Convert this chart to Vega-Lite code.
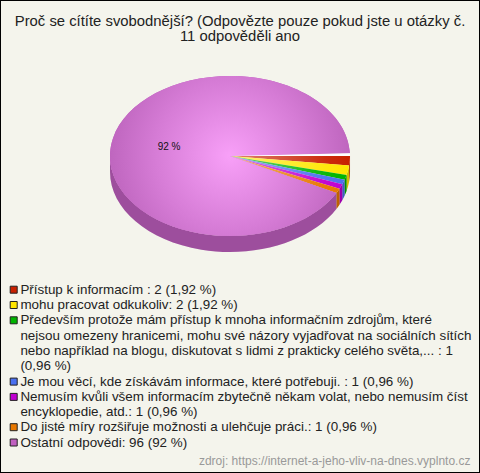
{
"$schema":"https://vega.github.io/schema/vega-lite/v6.json",
"width":480,"height":473,
"autosize":{"type":"fit","contains":"padding"},
"padding":0,
"background":"#f4f4ec",
"config":{"view":{"stroke":"#000","strokeWidth":2},"font":"Liberation Sans"},
"title":{"text":["Proč se cítíte svobodnější? (Odpovězte pouze pokud jste u otázky č.","11 odpověděli ano"],"anchor":"middle","frame":"group","font":"Liberation Sans","fontSize":14.85,"fontWeight":"normal","color":"#222222","lineHeight":15.5,"offset":-44},
"data":{"values":[
{"poradi":1,"odpoved":"Přístup k informacím : 2 (1,92 %)","pocet":2,"podil":"1,92 %"},
{"poradi":2,"odpoved":"mohu pracovat odkukoliv: 2 (1,92 %)","pocet":2,"podil":"1,92 %"},
{"poradi":3,"odpoved":"Především protože mám přístup k mnoha informačním zdrojům, které nejsou omezeny hranicemi, mohu své názory vyjadřovat na sociálních sítích nebo například na blogu, diskutovat s lidmi z prakticky celého světa,... : 1 (0,96 %)","pocet":1,"podil":"0,96 %"},
{"poradi":4,"odpoved":"Je mou věcí, kde získávám informace, které potřebuji. : 1 (0,96 %)","pocet":1,"podil":"0,96 %"},
{"poradi":5,"odpoved":"Nemusím kvůli všem informacím zbytečně někam volat, nebo nemusím číst encyklopedie, atd.: 1 (0,96 %)","pocet":1,"podil":"0,96 %"},
{"poradi":6,"odpoved":"Do jisté míry rozšiřuje možnosti a ulehčuje práci.: 1 (0,96 %)","pocet":1,"podil":"0,96 %"},
{"poradi":7,"odpoved":"Ostatní odpovědi: 96 (92 %)","pocet":96,"podil":"92 %"}
]},
"encoding":{
"x":{"datum":0.4792,"type":"quantitative","scale":{"domain":[0,1],"nice":false,"zero":false},"axis":null},
"y":{"datum":0.3298,"type":"quantitative","scale":{"domain":[0,1],"nice":false,"zero":false,"reverse":true},"axis":null}
},
"layer":[
{"mark":{"type":"point","filled":true,"size":4,"opacity":1},
"encoding":{
"color":{"field":"odpoved","type":"nominal","sort":null,"scale":{"range":["#c82000","#ffe600","#00b400","#4a70f0","#c000d0","#e87800","#c060c0"]},
"legend":{"title":null,"orient":"none","legendX":7,"legendY":283,"symbolType":"square","symbolSize":49,"symbolStrokeColor":"#222222","symbolStrokeWidth":1,"symbolOpacity":1,"labelFont":"Liberation Sans","labelFontSize":13.4,"labelColor":"#222222","labelLimit":480,"labelOffset":0,"rowPadding":0.3,"gridAlign":"each","encoding":{"labels":{"update":{"lineHeight":{"value":14.4}}}},"labelExpr":"split(replace(replace(replace(replace(datum.label,' nejsou omezeny','|nejsou omezeny'),' nebo například','|nebo například'),'... : 1 (0,96 %)','... : 1|(0,96 %)'),' encyklopedie','|encyklopedie'),'|')"}},
"shape":{"field":"poradi","type":"nominal","legend":null,"scale":{"domain":[1,2,3,4,5,6,7],"range":[
"M120 0A120 80 0 0 1 119.13 9.61L119.13 25.61A120 80 0 0 0 120 16Z",
"M119.13 9.61A120 80 0 0 1 116.54 19.08L116.54 35.08A120 80 0 0 0 119.13 25.61Z",
"M116.54 19.08A120 80 0 0 1 114.57 23.79L114.57 39.79A120 80 0 0 0 116.54 35.08Z",
"M114.57 23.79A120 80 0 0 1 112.25 28.28L112.25 44.28A120 80 0 0 0 114.57 39.79Z",
"M112.25 28.28A120 80 0 0 1 109.45 32.79L109.45 48.79A120 80 0 0 0 112.25 44.28Z",
"M109.45 32.79A120 80 0 0 1 106.34 37.06L106.34 53.06A120 80 0 0 0 109.45 48.79Z",
"M106.34 37.06A120 80 0 0 1 -120 0L-120 16A120 80 0 0 0 106.34 53.06Z"]}}
}},
{"mark":{"type":"point","filled":true,"size":4,"opacity":1,"fill":"#000000","fillOpacity":0.18},
"encoding":{
"shape":{"field":"poradi","type":"nominal","legend":null,"scale":{"domain":[1,2,3,4,5,6,7],"range":[
"M120 0A120 80 0 0 1 119.13 9.61L119.13 25.61A120 80 0 0 0 120 16Z",
"M119.13 9.61A120 80 0 0 1 116.54 19.08L116.54 35.08A120 80 0 0 0 119.13 25.61Z",
"M116.54 19.08A120 80 0 0 1 114.57 23.79L114.57 39.79A120 80 0 0 0 116.54 35.08Z",
"M114.57 23.79A120 80 0 0 1 112.25 28.28L112.25 44.28A120 80 0 0 0 114.57 39.79Z",
"M112.25 28.28A120 80 0 0 1 109.45 32.79L109.45 48.79A120 80 0 0 0 112.25 44.28Z",
"M109.45 32.79A120 80 0 0 1 106.34 37.06L106.34 53.06A120 80 0 0 0 109.45 48.79Z",
"M106.34 37.06A120 80 0 0 1 -120 0L-120 16A120 80 0 0 0 106.34 53.06Z"]}}
}},
{"mark":{"type":"point","filled":true,"size":4,"opacity":1},
"encoding":{
"color":{"field":"odpoved","type":"nominal","sort":null},
"shape":{"field":"poradi","type":"nominal","legend":null,"scale":{"domain":[1,2,3,4,5,6,7],"range":[
"M0 0L120 0A120 80 0 0 1 119.13 9.61Z",
"M0 0L119.13 9.61A120 80 0 0 1 116.54 19.08Z",
"M0 0L116.54 19.08A120 80 0 0 1 114.57 23.79Z",
"M0 0L114.57 23.79A120 80 0 0 1 112.25 28.28Z",
"M0 0L112.25 28.28A120 80 0 0 1 109.45 32.79Z",
"M0 0L109.45 32.79A120 80 0 0 1 106.34 37.06Z",
"M0 0L106.34 37.06A120 80 0 1 1 119.93 -2.79Z"]}}
}},
{"transform":[{"filter":"datum.poradi < 7"}],
"mark":{"type":"point","filled":true,"size":4,"opacity":1,"fill":{"gradient":"linear","x1":0,"y1":0,"x2":1,"y2":0,"stops":[{"offset":0,"color":"rgba(255,255,255,0.45)"},{"offset":0.8,"color":"rgba(255,255,255,0.05)"},{"offset":1,"color":"rgba(255,255,255,0)"}]}},
"encoding":{
"shape":{"field":"poradi","type":"nominal","legend":null,"scale":{"domain":[1,2,3,4,5,6],"range":[
"M0 0L120 0A120 80 0 0 1 119.13 9.61Z",
"M0 0L119.13 9.61A120 80 0 0 1 116.54 19.08Z",
"M0 0L116.54 19.08A120 80 0 0 1 114.57 23.79Z",
"M0 0L114.57 23.79A120 80 0 0 1 112.25 28.28Z",
"M0 0L112.25 28.28A120 80 0 0 1 109.45 32.79Z",
"M0 0L109.45 32.79A120 80 0 0 1 106.34 37.06Z"]}}
}},
{"transform":[{"filter":"datum.poradi == 7"}],
"mark":{"type":"point","filled":true,"size":4,"opacity":1,"fill":{"gradient":"radial","x1":0.5,"y1":0.5,"r1":0,"x2":0.5,"y2":0.5,"r2":0.62,"stops":[{"offset":0,"color":"#f8a0f8"},{"offset":0.5,"color":"#d67cd6"},{"offset":1,"color":"#b058b0"}]},
"shape":"M0 0L106.34 37.06A120 80 0 1 1 119.93 -2.79Z"}},
{"transform":[{"filter":"datum.poradi == 7"}],
"mark":{"type":"point","filled":true,"size":4,"opacity":1,"fill":"#ffffff","shape":"M0 0L119.93 -2.79A120 80 0 0 1 120 0Z"}},
{"transform":[{"filter":"datum.poradi == 7"}],
"mark":{"type":"text","font":"Liberation Sans","fontSize":10,"color":"#111111","dx":-61,"dy":-9},
"encoding":{"text":{"field":"podil"}}},
{"data":{"values":[{"zdroj":"zdroj: https://internet-a-jeho-vliv-na-dnes.vyplnto.cz"}]},
"mark":{"type":"text","font":"Liberation Sans","fontSize":12,"color":"#999999","align":"right"},
"encoding":{"text":{"field":"zdroj"},
"x":{"datum":0.98,"type":"quantitative"},
"y":{"datum":0.9746,"type":"quantitative"}}}
],
"resolve":{"scale":{"shape":"independent"}}
}
